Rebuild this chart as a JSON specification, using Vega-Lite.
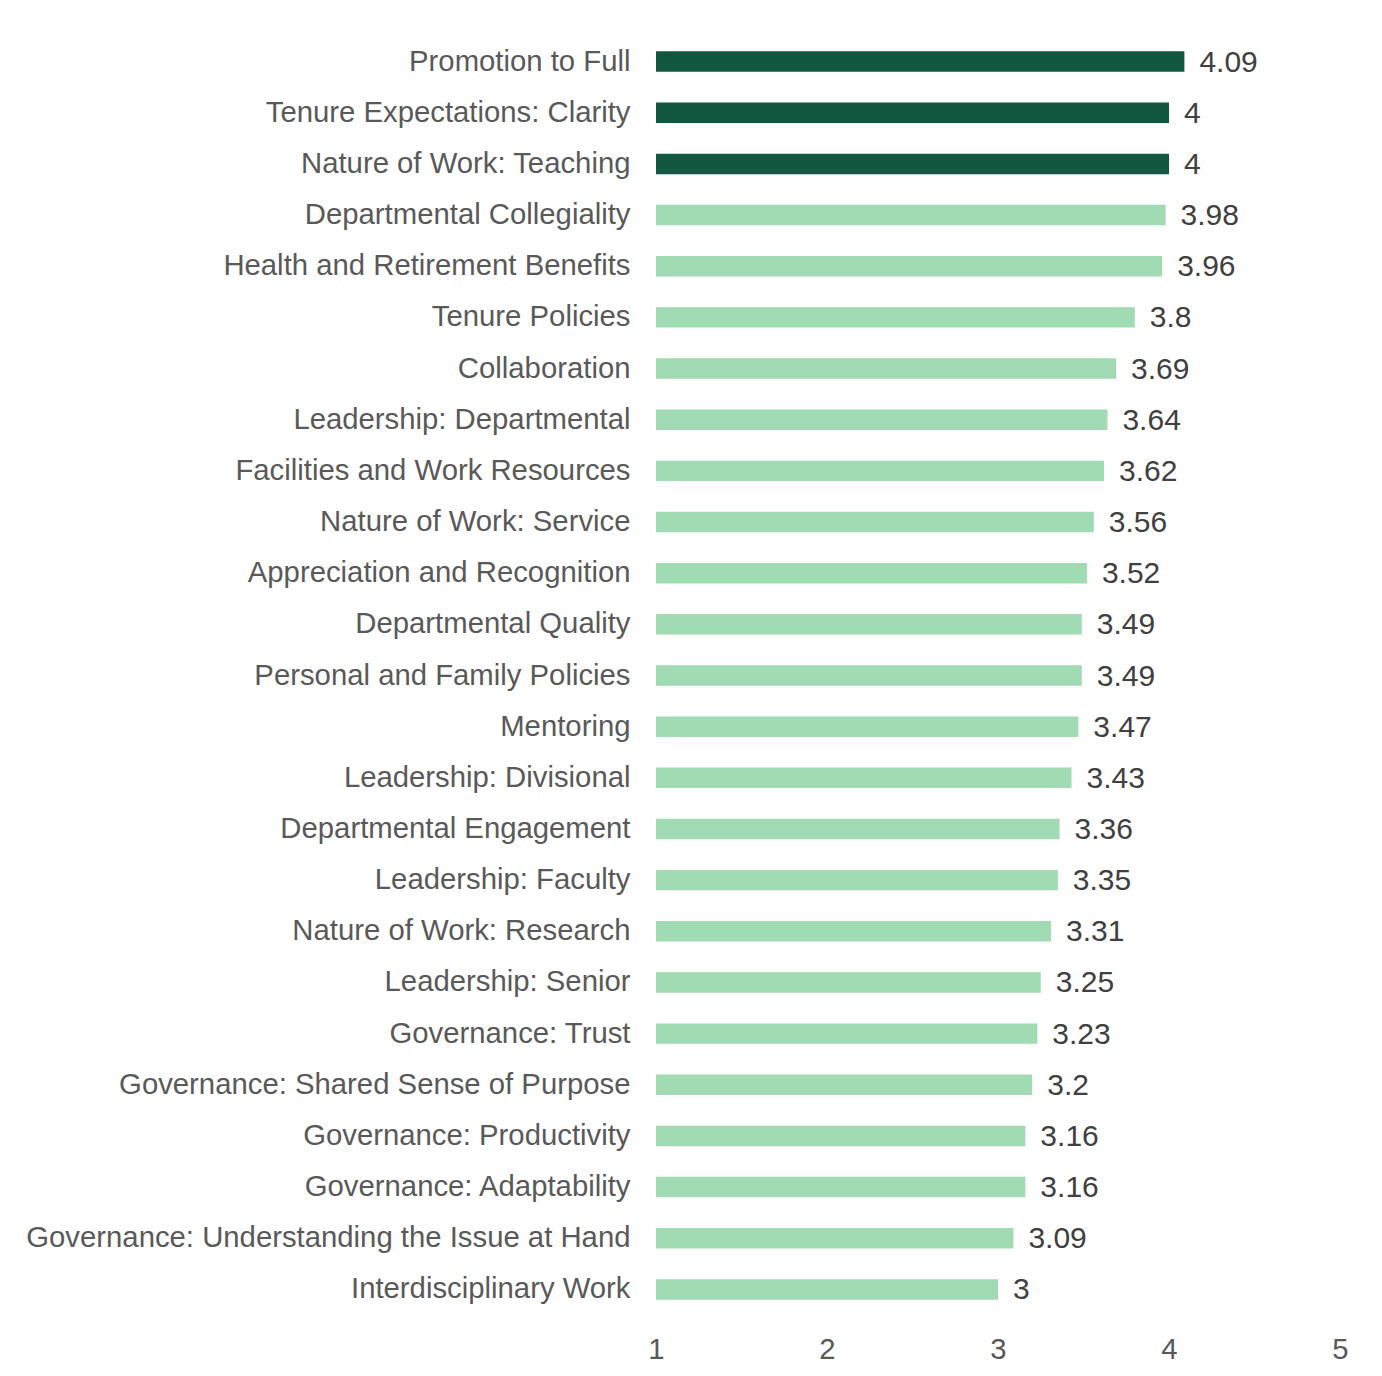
{
  "$schema": "https://vega.github.io/schema/vega-lite/v6.json",
  "autosize": {"type": "none"},
  "padding": {"left": 656, "top": 36, "right": 42, "bottom": 61},
  "width": 684,
  "height": 1279,
  "background": "white",
  "config": {
    "view": {"stroke": null},
    "font": "Liberation Sans"
  },
  "data": {
    "values": [
      {"item": "Promotion to Full", "score": 4.09, "group": "top"},
      {"item": "Tenure Expectations: Clarity", "score": 4, "group": "top"},
      {"item": "Nature of Work: Teaching", "score": 4, "group": "top"},
      {"item": "Departmental Collegiality", "score": 3.98, "group": "other"},
      {"item": "Health and Retirement Benefits", "score": 3.96, "group": "other"},
      {"item": "Tenure Policies", "score": 3.8, "group": "other"},
      {"item": "Collaboration", "score": 3.69, "group": "other"},
      {"item": "Leadership: Departmental", "score": 3.64, "group": "other"},
      {"item": "Facilities and Work Resources", "score": 3.62, "group": "other"},
      {"item": "Nature of Work: Service", "score": 3.56, "group": "other"},
      {"item": "Appreciation and Recognition", "score": 3.52, "group": "other"},
      {"item": "Departmental Quality", "score": 3.49, "group": "other"},
      {"item": "Personal and Family Policies", "score": 3.49, "group": "other"},
      {"item": "Mentoring", "score": 3.47, "group": "other"},
      {"item": "Leadership: Divisional", "score": 3.43, "group": "other"},
      {"item": "Departmental Engagement", "score": 3.36, "group": "other"},
      {"item": "Leadership: Faculty", "score": 3.35, "group": "other"},
      {"item": "Nature of Work: Research", "score": 3.31, "group": "other"},
      {"item": "Leadership: Senior", "score": 3.25, "group": "other"},
      {"item": "Governance: Trust", "score": 3.23, "group": "other"},
      {"item": "Governance: Shared Sense of Purpose", "score": 3.2, "group": "other"},
      {"item": "Governance: Productivity", "score": 3.16, "group": "other"},
      {"item": "Governance: Adaptability", "score": 3.16, "group": "other"},
      {"item": "Governance: Understanding the Issue at Hand", "score": 3.09, "group": "other"},
      {"item": "Interdisciplinary Work", "score": 3, "group": "other"}
    ]
  },
  "encoding": {
    "y": {
      "field": "item",
      "type": "nominal",
      "sort": null,
      "scale": {"paddingInner": 0.6, "paddingOuter": 0.3},
      "axis": {
        "title": null,
        "domain": false,
        "ticks": false,
        "labelPadding": 26,
        "labelFontSize": 29.3,
        "labelColor": "#595959",
        "labelLimit": 700
      }
    }
  },
  "layer": [
    {
      "mark": {"type": "bar"},
      "encoding": {
        "x": {
          "field": "score",
          "type": "quantitative",
          "scale": {"domain": [1, 5], "zero": false, "nice": false},
          "axis": {
            "title": null,
            "domain": false,
            "ticks": false,
            "grid": false,
            "values": [1, 2, 3, 4, 5],
            "format": "d",
            "labelPadding": 20,
            "labelFontSize": 29.3,
            "labelColor": "#595959",
            "labelFlush": false
          }
        },
        "x2": {"datum": 1},
        "color": {
          "field": "group",
          "type": "nominal",
          "scale": {"domain": ["top", "other"], "range": ["#12573F", "#A0DBB3"]},
          "legend": null
        }
      }
    },
    {
      "mark": {"type": "text", "align": "left", "baseline": "middle", "dx": 15, "dy": 1, "fontSize": 30, "color": "#404040"},
      "encoding": {
        "x": {"field": "score", "type": "quantitative"},
        "text": {"field": "score", "type": "quantitative"}
      }
    }
  ]
}
